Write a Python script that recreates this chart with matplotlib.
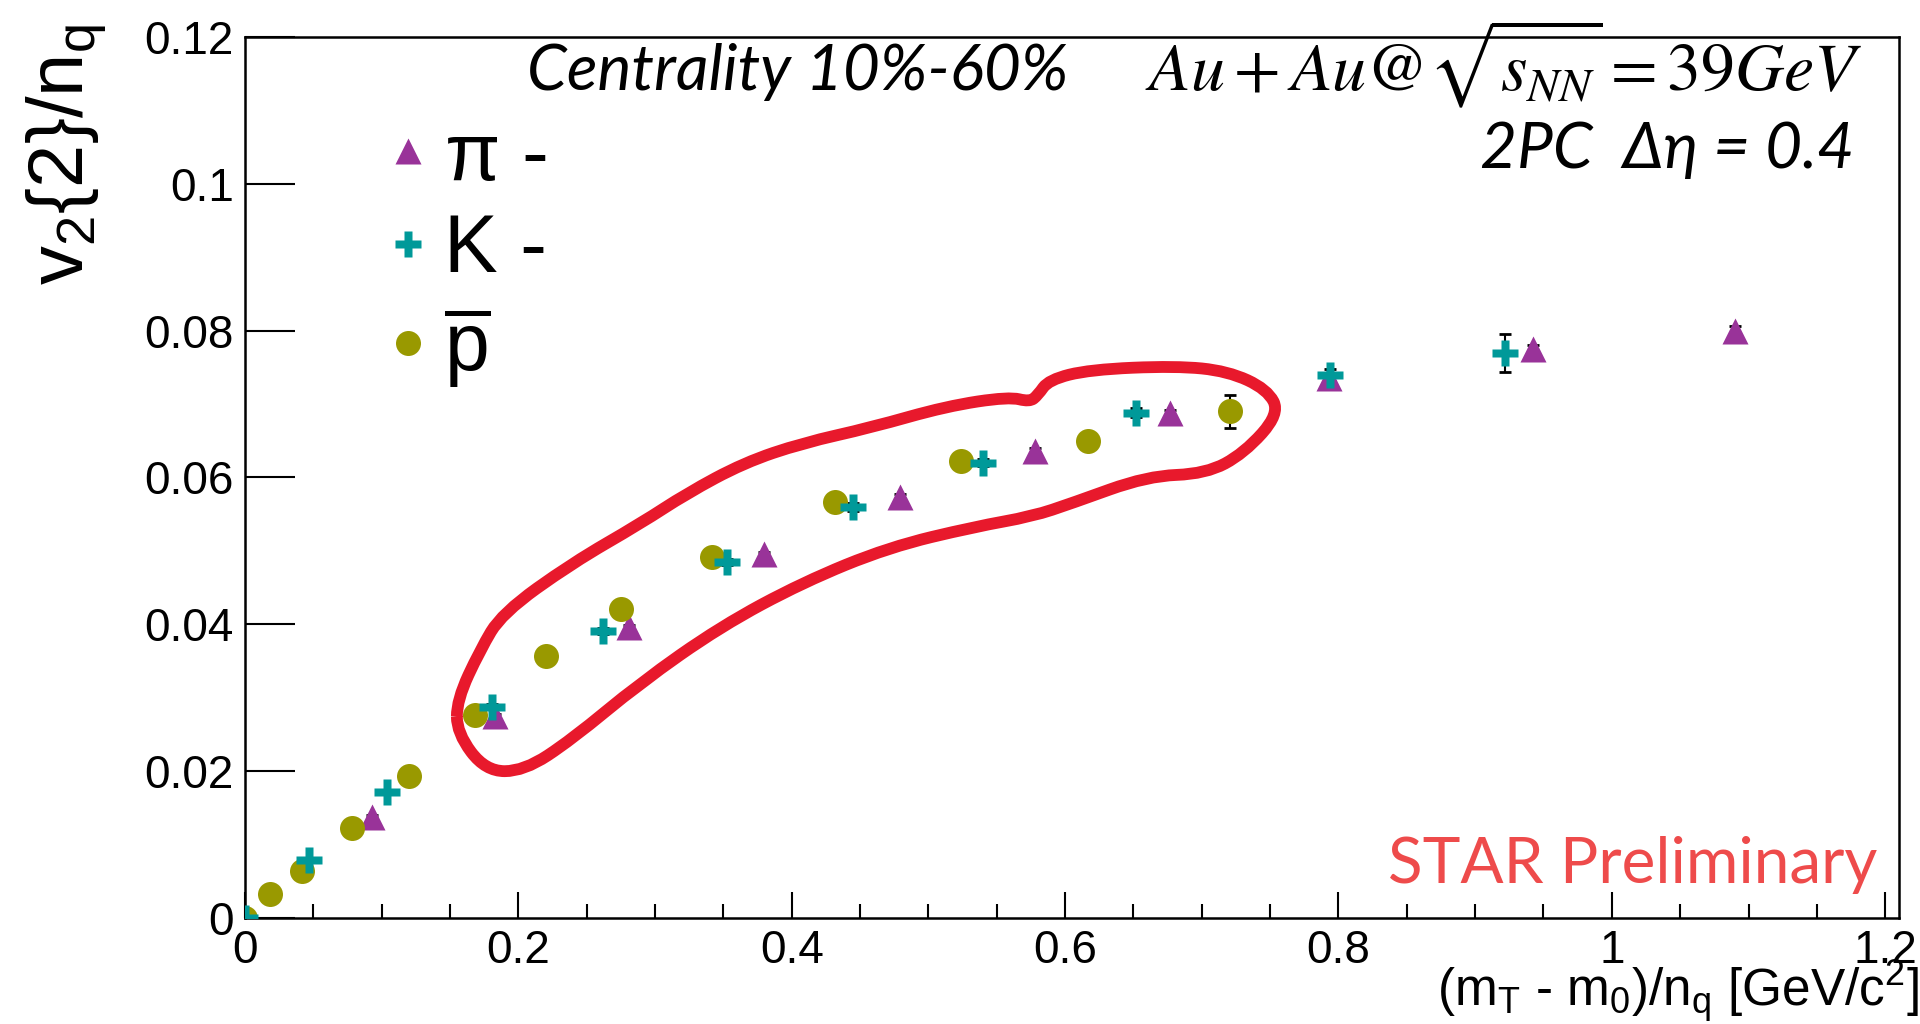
import matplotlib
matplotlib.use("Agg")
import matplotlib.pyplot as plt
from matplotlib.path import Path
from matplotlib.patches import PathPatch
import numpy as np

plt.rcParams['font.family'] = ['Liberation Sans', 'DejaVu Sans']
plt.rcParams['mathtext.fontset'] = 'custom'
plt.rcParams['mathtext.rm'] = 'Liberation Sans'
plt.rcParams['mathtext.it'] = 'Liberation Sans:italic'
plt.rcParams['mathtext.default'] = 'regular'

# pi- (triangles)
pi_x = [0.0, 0.093, 0.183, 0.281, 0.380, 0.479, 0.578, 0.677, 0.793, 0.942, 1.090]
pi_y = [0.0, 0.0138, 0.0275, 0.0396, 0.0496, 0.0573, 0.0636, 0.0688, 0.0735, 0.0775, 0.0800]
pi_err = [0.0002, 0.0002, 0.0003, 0.0003, 0.0003, 0.0004, 0.0004, 0.0004, 0.0005, 0.0006, 0.0007]

# K- (crosses)
k_x = [0.0, 0.047, 0.104, 0.181, 0.262, 0.353, 0.445, 0.540, 0.652, 0.794, 0.922]
k_y = [0.0, 0.0079, 0.0172, 0.0288, 0.0391, 0.0485, 0.0560, 0.0620, 0.0688, 0.0740, 0.0770]
k_err = [0.0002, 0.0003, 0.0003, 0.0003, 0.0004, 0.0004, 0.0005, 0.0005, 0.0006, 0.0008, 0.0026]

# anti-proton (circles)
p_x = [0.0, 0.018, 0.042, 0.078, 0.120, 0.168, 0.220, 0.275, 0.342, 0.432, 0.524, 0.617, 0.721]
p_y = [0.0, 0.0033, 0.0064, 0.0123, 0.0194, 0.0277, 0.0357, 0.0421, 0.0492, 0.0567, 0.0623, 0.0650, 0.0690]
p_err = [0.0002, 0.0002, 0.0003, 0.0003, 0.0003, 0.0004, 0.0004, 0.0004, 0.0005, 0.0005, 0.0006, 0.0007, 0.0022]

# hand drawn red loop (data coordinates, closed outline)
loop_x = [0.155, 0.176, 0.204, 0.239, 0.289, 0.348, 0.408, 0.471, 0.534, 0.576, 0.605,
          0.660, 0.703, 0.731, 0.757, 0.748, 0.719, 0.681, 0.618, 0.588, 0.580, 0.574,
          0.559, 0.513, 0.458, 0.408, 0.365, 0.323, 0.290, 0.239, 0.188, 0.172, 0.155]
loop_y = [0.0252, 0.0200, 0.0200, 0.0243, 0.0320, 0.0397, 0.0457, 0.0505, 0.0533, 0.0547, 0.0565,
          0.0602, 0.0605, 0.0633, 0.0687, 0.0720, 0.0745, 0.0752, 0.0747, 0.0733, 0.0712, 0.0703,
          0.0710, 0.0697, 0.0668, 0.0647, 0.0620, 0.0578, 0.0538, 0.0483, 0.0415, 0.0365, 0.0297]

x_ticks = [0, 0.2, 0.4, 0.6, 0.8, 1.0, 1.2]
x_tick_labels = ['0', '0.2', '0.4', '0.6', '0.8', '1', '1.2']
y_ticks = [0, 0.02, 0.04, 0.06, 0.08, 0.10, 0.12]
y_tick_labels = ['0', '0.02', '0.04', '0.06', '0.08', '0.1', '0.12']

PI_COL = '#993399'
K_COL = '#009999'
P_COL = '#999900'


def smooth_loop(xs, ys):
    # closed quadratic bezier through the midpoints, outline points as controls
    pts = np.column_stack([xs, ys])
    n = len(pts)
    mids = (pts + np.roll(pts, -1, axis=0)) / 2
    verts = [mids[-1]]
    codes = [Path.MOVETO]
    for i in range(n):
        verts += [pts[i], mids[i]]
        codes += [Path.CURVE3, Path.CURVE3]
    return Path(verts, codes)


def main():
    fig = plt.figure(figsize=(19.2, 10.24), dpi=100)
    ax = fig.add_axes([0.1276, 0.1035, 0.8614, 0.8604])

    ax.set_xlim(0, 1.21)
    ax.set_ylim(0, 0.12)

    # error bars first, markers on top
    for xs, ys, es in [(pi_x, pi_y, pi_err), (k_x, k_y, k_err), (p_x, p_y, p_err)]:
        ax.errorbar(xs, ys, yerr=es, fmt='none', ecolor='black', elinewidth=1.5,
                    capsize=4, capthick=2, zorder=2)

    h_pi, = ax.plot(pi_x, pi_y, '^', color=PI_COL, ms=19, mec='none', zorder=3)
    h_p, = ax.plot(p_x, p_y, 'o', color=P_COL, ms=18, mec='none', zorder=4)
    h_k, = ax.plot(k_x, k_y, 'P', color=K_COL, ms=19, mec='none', zorder=5)

    ax.add_patch(PathPatch(smooth_loop(loop_x, loop_y), fill=False, edgecolor='#e8192c',
                           lw=8.5, joinstyle='round', zorder=6))

    ax.set_xticks(x_ticks)
    ax.set_xticklabels(x_tick_labels)
    ax.set_xticks(np.arange(0, 1.21, 0.05), minor=True)
    ax.set_yticks(y_ticks)
    ax.set_yticklabels(y_tick_labels)
    ax.tick_params(axis='x', which='major', direction='in', length=19, width=1.5,
                   labelsize=33, pad=8)
    ax.tick_params(axis='x', which='minor', direction='in', length=10, width=1.5)
    ax.tick_params(axis='y', which='major', direction='in', length=36, width=1.5,
                   labelsize=33, pad=8)
    for s in ax.spines.values():
        s.set_linewidth(1.8)

    ax.set_ylabel(r'v$_2${2}/n$_q$', fontsize=56, loc='top')
    ax.yaxis.set_label_coords(-0.082, 1.015)
    ax.set_xlabel(r'(m$_T$ - m$_0$)/n$_q$ [GeV/c$^2$]', fontsize=37, loc='right')
    ax.xaxis.label.set_va('baseline')
    ax.xaxis.set_label_coords(1.012, -0.100)

    sans_it = ['Lato', 'Open Sans', 'DejaVu Sans']
    ax.text(0.1705, 0.9398, 'Centrality 10%-60%', transform=ax.transAxes,
            fontsize=46, family=sans_it, style='italic', va='baseline', ha='left')
    ax.text(0.978, 0.9398, r'$\mathit{Au + Au@}\sqrt{\mathit{s}_{\mathit{NN}}}\mathit{ = 39GeV}$',
            transform=ax.transAxes, fontsize=49, math_fontfamily='stix',
            va='baseline', ha='right')
    ax.text(0.973, 0.851, '2PC  \u0394\u03b7 = 0.4', transform=ax.transAxes,
            fontsize=46, family=sans_it, style='italic', va='baseline', ha='right')
    ax.text(0.987, 0.0397, 'STAR Preliminary', transform=ax.transAxes,
            fontsize=46, family=['Lato', 'DejaVu Sans'], color='#ee4b4b',
            va='baseline', ha='right')

    leg = ax.legend([h_pi, h_k, h_p], [r'$\pi$ -', 'K -', r'$\overline{\mathrm{p}}$'],
                    loc='upper left', bbox_to_anchor=(0.084, 0.905), frameon=False,
                    fontsize=58, handlelength=0.6, handletextpad=0.15,
                    labelspacing=0.2, borderpad=0, borderaxespad=0)
    leg.get_texts()[0].set_math_fontfamily('stix')

    fig.savefig('out.png', dpi=100)


if __name__ == "__main__":
    main()
